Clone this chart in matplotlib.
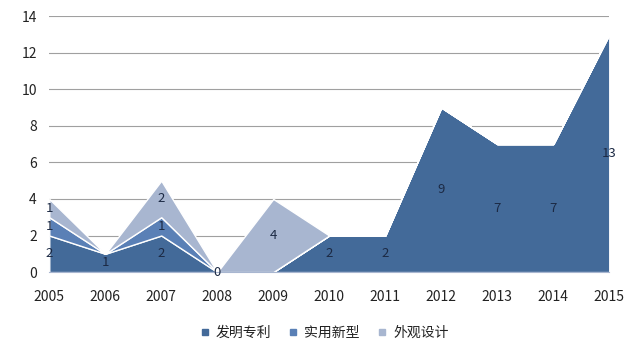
import matplotlib.pyplot as plt
import numpy as np

plt.rcParams['font.family'] = ['Noto Sans CJK SC', 'DejaVu Sans']

# Data
years = [2005, 2006, 2007, 2008, 2009, 2010, 2011, 2012, 2013, 2014, 2015]
invention = [2, 1, 2, 0, 0, 2, 2, 9, 7, 7, 13]
utility = [1, 0, 1, 0, 0, 0, 0, 0, 0, 0, 0]
design = [1, 0, 2, 0, 4, 0, 0, 0, 0, 0, 0]
series_names = ['发明专利', '实用新型', '外观设计']
colors = ['#436a99', '#5a80b6', '#a8b6d0']

fig = plt.figure(figsize=(6.4, 3.58), dpi=100)
ax = fig.add_axes([0.077, 0.240, 0.875, 0.715])

x = np.arange(len(years))
stack = [np.array(invention), np.array(utility), np.array(design)]
ax.stackplot(x, *stack, colors=colors, labels=series_names,
             edgecolor='white', linewidth=1.0, zorder=2)

# data labels at the middle of each band
base = np.zeros(len(years))
for vals in stack:
    for i, v in enumerate(vals):
        show = v > 0 or (vals is stack[0] and years[i] == 2008)
        if show:
            ax.text(x[i], base[i] + v / 2, str(v), ha='center', va='center',
                    fontsize=9.5, color='#1c2a44', zorder=3)
    base = base + vals

ax.set_xlim(0, len(years) - 1)
ax.set_ylim(0, 14)
ax.set_yticks(range(0, 15, 2))
ax.set_xticks(x)
ax.set_xticklabels([str(y) for y in years])
ax.tick_params(axis='both', length=0, labelsize=10, colors='#222222')
ax.tick_params(axis='x', pad=13)
ax.tick_params(axis='y', pad=9)
ax.grid(axis='y', color='#a0a0a0', linewidth=0.8, zorder=1)
ax.set_axisbelow(True)
for s in ['top', 'right', 'left']:
    ax.spines[s].set_visible(False)
ax.spines['bottom'].set_color('#a8b6d0')

handles = [plt.Line2D([], [], marker='s', linestyle='', markersize=5,
                      color=c) for c in colors]
fig.legend(handles, series_names, loc='center', bbox_to_anchor=(0.505, 0.07),
           ncol=3, frameon=False, fontsize=10, handletextpad=0.3,
           columnspacing=1.1, handlelength=1.0, labelcolor='#222222')

fig.savefig('out.png', dpi=100)
